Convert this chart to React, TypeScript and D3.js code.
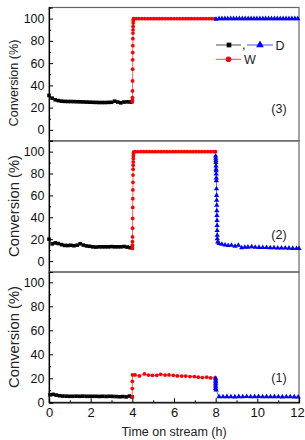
import * as d3 from 'd3'
import { useEffect, useRef } from 'react'

// time (h), conversion (%)
const black3 = [[0,31],[0.15,28.5],[0.3,27],[0.45,26.3],[0.6,25.8],[0.75,25.6],[0.9,25.5],[1.05,25.5],[1.2,25.4],[1.35,25.3],[1.5,25.2],[1.65,25.1],[1.8,25],[1.95,24.9],[2.1,24.8],[2.25,24.7],[2.4,24.6],[2.55,24.6],[2.7,24.6],[2.85,24.7],[3.0,24.8],[3.15,25.8],[3.3,25],[3.45,24.3],[3.6,25],[3.75,25.2],[3.9,25.1],[3.98,25.3]]
const red3 = [[4.0,25.4],[4.003,26.5],[4.006,29],[4.009,35],[4.012,44],[4.015,54.5],[4.018,63],[4.021,69.5],[4.024,75.7],[4.027,82],[4.03,87],[4.033,90],[4.036,93],[4.04,96],[4.044,98],[4.05,99.3],[4.06,100],[4.18,100],[4.32,100],[4.46,100],[4.6,100],[4.74,100],[4.88,100],[5.02,100],[5.16,100],[5.3,100],[5.44,100],[5.58,100],[5.72,100],[5.86,100],[6.0,100],[6.14,100],[6.28,100],[6.42,100],[6.56,100],[6.7,100],[6.84,100],[6.98,100],[7.12,100],[7.26,100],[7.4,100],[7.54,100],[7.68,100],[7.82,100],[7.96,100]]
const blue3 = [[8.02,99.5],[8.16,100],[8.3,100],[8.44,100],[8.58,100],[8.72,100],[8.86,100],[9.0,100],[9.14,100],[9.28,100],[9.42,100],[9.56,100],[9.7,100],[9.84,100],[9.98,100],[10.12,100],[10.26,100],[10.4,100],[10.54,100],[10.68,100],[10.82,100],[10.96,100],[11.1,100],[11.24,100],[11.38,100],[11.52,100],[11.66,100],[11.8,100],[11.94,100]]

const black2 = [[0,20],[0.15,15.7],[0.3,16.6],[0.45,16],[0.6,15],[0.75,14.3],[0.9,14.2],[1.05,14.4],[1.2,14],[1.35,14.5],[1.5,15.8],[1.65,14.6],[1.8,13.8],[1.95,13.5],[2.1,13],[2.25,12.8],[2.4,13],[2.55,13],[2.7,13],[2.85,13],[3.0,13.2],[3.15,13],[3.3,13],[3.45,13],[3.6,13.3],[3.75,12.8],[3.9,12.2]]
const red2 = [[4.0,11.5],[4.002,12.5],[4.004,14.5],[4.007,17.7],[4.01,22],[4.013,30],[4.016,39],[4.02,49],[4.023,57],[4.026,65],[4.03,72],[4.033,78.6],[4.036,84],[4.04,87.6],[4.043,90.6],[4.046,93.7],[4.05,96],[4.055,98],[4.06,99.5],[4.12,100],[4.26,100],[4.4,100],[4.54,100],[4.68,100],[4.82,100],[4.96,100],[5.1,100],[5.24,100],[5.38,100],[5.52,100],[5.66,100],[5.8,100],[5.94,100],[6.08,100],[6.22,100],[6.36,100],[6.5,100],[6.64,100],[6.78,100],[6.92,100],[7.06,100],[7.2,100],[7.34,100],[7.48,100],[7.62,100],[7.76,100],[7.9,100],[7.99,100]]
const blue2 = [[8.0,96],[8.004,94],[8.008,92],[8.012,90],[8.016,87],[8.02,84],[8.024,82.5],[8.028,79.5],[8.032,76],[8.036,73.5],[8.04,66],[8.044,60],[8.048,55.5],[8.052,51],[8.056,46],[8.06,41.7],[8.064,37],[8.068,32.5],[8.072,28],[8.076,23.5],[8.08,20.5],[8.1,17.5],[8.16,16],[8.3,15.4],[8.45,14.6],[8.6,14.2],[8.76,14.5],[8.93,13.6],[9.09,14.5],[9.25,12.1],[9.4,12.6],[9.55,12.7],[9.73,13],[9.9,12.6],[10.08,12.5],[10.26,12.4],[10.44,12.3],[10.62,12.2],[10.8,12.2],[10.98,12],[11.16,12],[11.34,11.9],[11.52,11.8],[11.7,11.6],[11.88,11.5],[12.0,11.5]]

const black1 = [[0.05,6.2],[0.2,6.6],[0.35,6],[0.5,5.5],[0.66,5.2],[0.82,5.1],[0.98,5],[1.14,5],[1.3,5.1],[1.46,5],[1.62,5.1],[1.78,5],[1.94,5],[2.1,5],[2.26,5],[2.42,4.9],[2.58,5],[2.74,4.9],[2.9,5],[3.06,4.9],[3.22,4.8],[3.38,4.6],[3.54,4.8],[3.7,4.5],[3.86,5.2],[3.98,4.6]]
const red1 = [[4.0,4.6],[4.0,11.5],[4.0,17.5],[4.01,22.8],[4.13,22.8],[4.34,22],[4.58,23.6],[4.77,22.7],[4.96,22.5],[5.17,22.5],[5.36,23.3],[5.57,22.7],[5.76,22.8],[5.97,22.5],[6.16,22],[6.37,21.9],[6.56,21.9],[6.77,21.4],[6.98,21.4],[7.17,20.9],[7.36,20.6],[7.57,20.9],[7.76,20.3],[7.97,20.4]]
const blue1 = [[8.0,20],[8.0,18.6],[8.0,17.2],[8.0,15.8],[8.0,14.4],[8.0,13],[8.0,11.6],[8.02,10.3],[8.16,4.7],[8.35,4.6],[8.54,4.7],[8.73,4.6],[8.92,4.5],[9.11,4.7],[9.3,4.6],[9.49,4.8],[9.68,4.6],[9.87,4.7],[10.06,4.8],[10.25,4.6],[10.44,4.7],[10.63,4.6],[10.82,4.7],[11.01,4.6],[11.2,4.5],[11.39,4.6],[11.58,4.6],[11.77,4.5],[11.96,4.4]]

const xTicks = [0, 2, 4, 6, 8, 10, 12]
const yTicks = [0, 20, 40, 60, 80, 100]
const panelLabels = ['(3)', '(2)', '(1)']

const BLACK = '#000000'
const RED = '#ff0000'
const BLUE = '#0000ff'

const App = () => {
  const svgRef = useRef(null)

  useEffect(() => {
    const svg = d3.select(svgRef.current)
    svg.selectAll('*').remove()
    const font = 'Liberation Sans, Arial, sans-serif'
    const left = 49, right = 299, bottom = 402.3

    const x = d3.scaleLinear().domain([0, 12]).range([left, right])

    const panels = [
      { black: black3, red: red3, blue: blue3, y: d3.scaleLinear().domain([-10, 110]).range([141, 7.5]), label: panelLabels[0], ly: 113, ty: 83, tf: 12.6 },
      { black: black2, red: red2, blue: blue2, y: d3.scaleLinear().domain([-10, 110]).range([272, 140.7]), label: panelLabels[1], ly: 239, ty: 206, tf: 14.8 },
      { black: black1, red: red1, blue: blue1, y: d3.scaleLinear().domain([0, 108.6]).range([bottom, 272]), label: panelLabels[2], ly: 382, ty: 337, tf: 14.8 },
    ]

    panels.forEach((p, i) => {
      const g = svg.append('g')
      const [y0, y1] = p.y.range()

      // frame
      g.append('rect')
        .attr('x', left).attr('y', y1)
        .attr('width', right - left).attr('height', y0 - y1)
        .attr('fill', 'none').attr('stroke', '#666').attr('stroke-width', 1.2)

      // minor y ticks
      const minor = d3.range(-10, 111, 20).filter(v => v >= p.y.domain()[0] && v <= p.y.domain()[1])
      g.append('g')
        .attr('transform', `translate(${left},0)`)
        .call(d3.axisLeft(p.y).tickValues(minor).tickSize(-2).tickFormat(() => ''))
        .call(a => a.select('.domain').remove())

      const ya = g.append('g')
        .attr('transform', `translate(${left},0)`)
        .call(d3.axisLeft(p.y).tickValues(yTicks).tickSize(-4).tickPadding(4.5))
      ya.select('.domain').attr('stroke', '#000').attr('stroke-width', 1.2)
      ya.selectAll('text').attr('font-family', font).attr('font-size', 12.5).attr('fill', '#111')

      const line = d3.line().x(d => x(d[0])).y(d => p.y(d[1]))
      const series = [
        { data: p.black, color: BLACK, sym: d3.symbolSquare, size: 13 },
        { data: p.red, color: RED, sym: d3.symbolCircle, size: 11 },
        { data: p.blue, color: BLUE, sym: d3.symbolTriangle, size: 12 },
      ]
      series.forEach(s => {
        g.append('path').attr('d', line(s.data)).attr('fill', 'none')
          .attr('stroke', s.color).attr('stroke-width', 0.6)
        g.selectAll(null).data(s.data).join('path')
          .attr('d', d3.symbol().type(s.sym).size(s.size))
          .attr('transform', d => `translate(${x(d[0])},${p.y(d[1])})`)
          .attr('fill', s.color)
      })

      g.append('text').attr('x', 279).attr('y', p.ly)
        .attr('text-anchor', 'middle').attr('font-family', font).attr('font-size', 12.5).attr('fill', '#222')
        .text(p.label)

      g.append('text')
        .attr('transform', `translate(${i === 0 ? 18 : 19},${p.ty}) rotate(-90)`)
        .attr('text-anchor', 'middle').attr('font-family', font).attr('font-size', p.tf).attr('fill', '#222')
        .text('Conversion (%)')
    })

    // bottom axis
    svg.append('g')
      .attr('transform', `translate(0,${bottom})`)
      .call(d3.axisBottom(x).tickValues(d3.range(1, 12, 2)).tickSize(-2).tickFormat(() => ''))
      .call(a => a.select('.domain').remove())
    const xa = svg.append('g')
      .attr('transform', `translate(0,${bottom})`)
      .call(d3.axisBottom(x).tickValues(xTicks).tickSize(-4).tickPadding(5))
    xa.select('.domain').attr('stroke', '#000').attr('stroke-width', 1.2)
    xa.selectAll('text').attr('font-family', font).attr('font-size', 13).attr('fill', '#111')
      .attr('dx', d => (d === 12 ? -2 : 0))

    svg.append('text').attr('x', (left + right) / 2).attr('y', 436)
      .attr('text-anchor', 'middle').attr('font-family', font).attr('font-size', 12.5).attr('fill', '#222')
      .text('Time on stream (h)')

    // legend
    const lg = svg.append('g').attr('font-family', font).attr('font-size', 12.5).attr('fill', '#222')
    lg.append('line').attr('x1', 216).attr('x2', 241).attr('y1', 45).attr('y2', 45).attr('stroke', BLACK).attr('stroke-width', 0.7)
    lg.append('path').attr('d', d3.symbol().type(d3.symbolSquare).size(22)).attr('transform', 'translate(229,45)').attr('fill', BLACK)
    lg.append('text').attr('x', 242).attr('y', 49).text(',')
    lg.append('line').attr('x1', 247).attr('x2', 273).attr('y1', 45).attr('y2', 45).attr('stroke', BLUE).attr('stroke-width', 0.7)
    lg.append('path').attr('d', d3.symbol().type(d3.symbolTriangle).size(26)).attr('transform', 'translate(260,45)').attr('fill', BLUE)
    lg.append('text').attr('x', 275.5).attr('y', 49.5).text('D')
    lg.append('line').attr('x1', 216).attr('x2', 241).attr('y1', 59.3).attr('y2', 59.3).attr('stroke', RED).attr('stroke-width', 0.7)
    lg.append('circle').attr('cx', 228.5).attr('cy', 59.3).attr('r', 2.8).attr('fill', RED)
    lg.append('text').attr('x', 244).attr('y', 64).text('W')
  }, [])

  return (
    <svg ref={svgRef} width={305} height={440}
      style={{ position: 'absolute', left: 0, top: 0, background: '#fff' }} />
  )
}

export default App
